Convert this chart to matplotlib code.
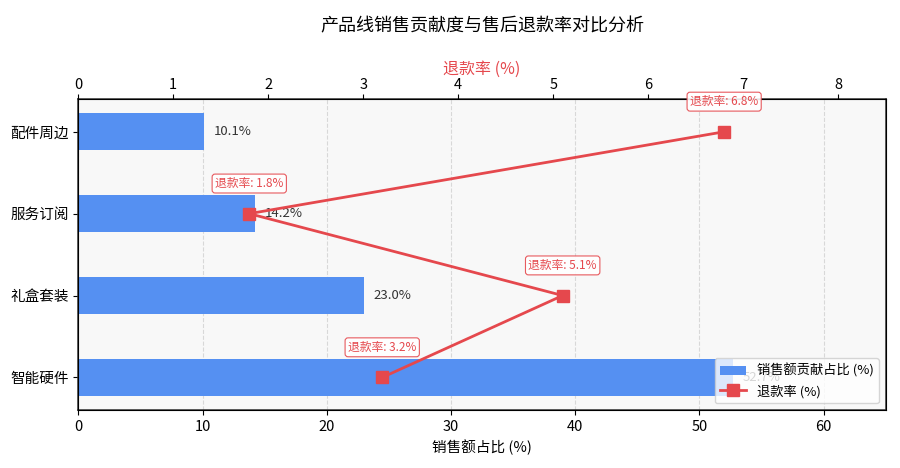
import matplotlib
matplotlib.use('Agg')
import matplotlib.pyplot as plt

plt.rcParams['font.family'] = ['Noto Sans CJK SC', 'DejaVu Sans']
plt.rcParams['axes.unicode_minus'] = False

# 数据
categories = ['智能硬件', '礼盒套装', '服务订阅', '配件周边']
sales_share = [52.7, 23.0, 14.2, 10.1]
refund_rate = [3.2, 5.1, 1.8, 6.8]

bar_color = '#5590f2'
line_color = '#e5484d'

fig, ax = plt.subplots(figsize=(9, 4.68), dpi=100)
fig.subplots_adjust(left=0.087, right=0.984, top=0.788, bottom=0.124)
ax.set_facecolor('#f8f8f8')

y = list(range(len(categories)))
bars = ax.barh(y, sales_share, height=0.45, color=bar_color, label='销售额贡献占比 (%)', zorder=2)
for yi, v in zip(y, sales_share):
    ax.text(v + 0.8, yi, f'{v:.1f}%', va='center', ha='left', fontsize=9.5, color='#333333', zorder=3)

ax.set_yticks(y)
ax.set_yticklabels(categories, fontsize=10.5)
ax.tick_params(axis='x', labelsize=10.5)
ax.set_xlim(0, 65)
ax.set_xlabel('销售额占比 (%)', fontsize=10.5)
ax.grid(axis='x', linestyle='--', color='#d8d8d8', linewidth=0.8, zorder=0)
ax.set_axisbelow(True)
for s in ax.spines.values():
    s.set_color('#333333')
    s.set_linewidth(1.1)

# 退款率 (上方坐标轴)
ax2 = ax.twiny()
line, = ax2.plot(refund_rate, y, color=line_color, linewidth=2, marker='s', markersize=8,
                 label='退款率 (%)', zorder=4)
ax2.set_xlim(0, 8.5)
ax2.tick_params(axis='x', labelsize=10.5, pad=1.5)
ax2.set_xlabel('退款率 (%)', color=line_color, fontsize=11.5, labelpad=3)
for r, yi in zip(refund_rate, y):
    ax2.annotate(f'退款率: {r}%', xy=(r, yi), xytext=(0, 17), textcoords='offset points',
                 ha='center', va='bottom', fontsize=8.5, color=line_color,
                 bbox=dict(boxstyle='round,pad=0.25', fc='white', ec=line_color, lw=0.8, alpha=0.9))

ax.set_title('产品线销售贡献度与售后退款率对比分析', fontsize=13, pad=49)

ax2.legend([bars, line], ['销售额贡献占比 (%)', '退款率 (%)'], loc='lower right', fontsize=9.5,
           framealpha=0.8)

fig.savefig('out.png', dpi=100)
